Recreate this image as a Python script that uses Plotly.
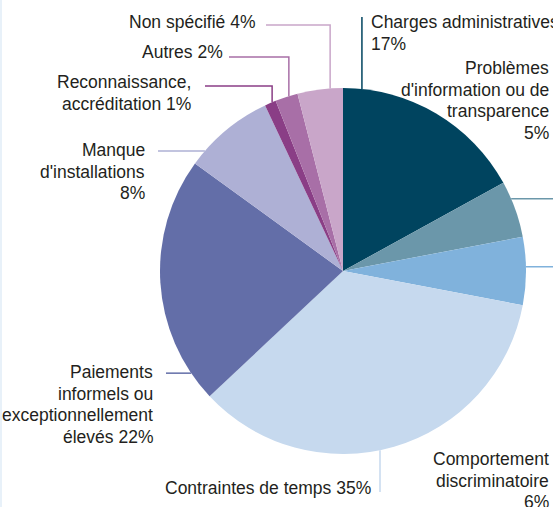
import math
import plotly.graph_objects as go

# Obstacles reported (share of respondents, %)
categories = [
    "Charges administratives",
    "Problèmes d'information ou de transparence",
    "Comportement discriminatoire",
    "Contraintes de temps",
    "Paiements informels ou exceptionnellement élevés",
    "Manque d'installations",
    "Reconnaissance, accréditation",
    "Autres",
    "Non spécifié",
]
values = [17, 5, 6, 35, 22, 8, 1, 2, 4]
colors = ["#00445f", "#6b97aa", "#80b2dc", "#c6d9ee", "#636ea8",
          "#aeb0d5", "#8a3e86", "#a86fa7", "#c9a6c9"]

# Label text lines (with the value appended where it sits on the same line)
label_lines = [
    ["Charges administratives", "{v}%"],
    ["Problèmes", "d'information ou de", "transparence", "{v}%"],
    ["Comportement", "discriminatoire", "{v}%"],
    ["Contraintes de temps {v}%"],
    ["Paiements", "informels ou", "exceptionnellement", "élevés {v}%"],
    ["Manque", "d'installations", "{v}%"],
    ["Reconnaissance,", "accréditation {v}%"],
    ["Autres {v}%"],
    ["Non spécifié {v}%"],
]

W, H = 553, 507
CX, CY, R = 343, 271, 183
LINE_H = 21.5
FONT = dict(family="Liberation Sans, Arial, sans-serif", size=17.5, color="#231f20")

# Label layout: text anchor (px), alignment, leader kind, anchor fraction in slice,
# and leader extent (px)
label_layout = [
    dict(tx=369, ty=22, xa="left", kind="vtop", frac=0.097, end=17),
    dict(tx=551, ty=68, xa="right", kind="h", frac=0.31, end=560),
    dict(tx=551, ty=459, xa="right", kind="h", frac=0.44, end=560),
    dict(tx=373, ty=488, xa="right", kind="vbot", frac=0.536, end=492),
    dict(tx=155, ty=372, xa="right", kind="h", frac=0.117, end=166),
    dict(tx=147, ty=150, xa="right", kind="h", frac=0.174, end=158),
    dict(tx=193, ty=82, xa="right", kind="elbow", frac=0.67, end=(205, 86)),
    dict(tx=225, ty=52, xa="right", kind="elbow", frac=0.61, end=(229, 57)),
    dict(tx=257, ty=22, xa="right", kind="elbow", frac=0.72, end=(266, 25)),
]


def px(x):
    return x / W


def py(y):
    return 1 - y / H


fig = go.Figure(go.Pie(
    labels=categories,
    values=values,
    sort=False,
    direction="clockwise",
    rotation=0,
    marker=dict(colors=colors, line=dict(width=0)),
    textinfo="none",
    hoverinfo="label+percent",
    domain=dict(x=[px(CX - R), px(CX + R)], y=[py(CY + R), py(CY - R)]),
    showlegend=False,
))

total = sum(values)
shapes = []
annotations = []
cum = 0
for val, col, lines, lay in zip(values, colors, label_lines, label_layout):
    start = cum / total * 360
    span = val / total * 360
    cum += val
    theta = math.radians(start + lay["frac"] * span)
    rx = CX + R * math.sin(theta)
    ry = CY - R * math.cos(theta)

    kind = lay["kind"]
    if kind == "h":
        pts = [(lay["end"], ry), (rx, ry)]
    elif kind in ("vtop", "vbot"):
        pts = [(rx, lay["end"]), (rx, ry)]
    else:
        ex, ey = lay["end"]
        pts = [(ex, ey), (rx, ey), (rx, ry)]
    path = "M " + " L ".join(f"{px(a):.5f},{py(b):.5f}" for a, b in pts)
    shapes.append(dict(type="path", xref="paper", yref="paper", path=path,
                       line=dict(color=col, width=1.5)))

    for i, ln in enumerate(lines):
        annotations.append(dict(
            x=px(lay["tx"]), y=py(lay["ty"] + i * LINE_H),
            xref="paper", yref="paper",
            text=ln.format(v=val), showarrow=False,
            xanchor=lay["xa"], yanchor="middle",
            align=lay["xa"], font=FONT,
        ))

# thin frame rule along the left edge
shapes.append(dict(type="line", xref="paper", yref="paper",
                   x0=px(1), x1=px(1), y0=0, y1=1,
                   line=dict(color="#e1ecf7", width=1.5)))

fig.update_layout(
    width=W, height=H,
    margin=dict(l=0, r=0, t=0, b=0),
    paper_bgcolor="white",
    plot_bgcolor="white",
    shapes=shapes,
    annotations=annotations,
)

fig.write_html("out.html")
